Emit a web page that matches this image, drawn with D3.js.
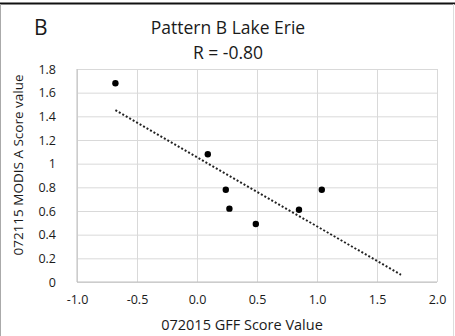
<!DOCTYPE html>
<html lang="en">
<head>
	<meta charset="utf-8">
	<title>Pattern B Lake Erie</title>
	<script src="https://d3js.org/d3.v7.min.js"></script>
	<style>
		body {margin:0; background:#fff;}
		svg text {font-family:"Open Sans", "Liberation Sans", sans-serif; fill:#1a1a1a;}
	</style>
</head>
<body>
	<div id="chart"></div>
	<script>
		// scatter values
		const gffScore = [-0.68, 0.09, 0.24, 0.27, 0.49, 0.85, 1.04];
		const modisScore = [1.68, 1.08, 0.78, 0.62, 0.49, 0.61, 0.78];
		const xTicks = [-1.0, -0.5, 0.0, 0.5, 1.0, 1.5, 2.0];
		const yTicks = [0, 0.2, 0.4, 0.6, 0.8, 1, 1.2, 1.4, 1.6, 1.8];
		const trendEnd = 1.7; // excel trendline forecast forward

		const width = 455, height = 336;
		const plotLeft = 77, plotRight = 437, plotTop = 69, plotBottom = 282;

		var svg = d3.select("#chart")
			.append("svg")
			.attr("width", width)
			.attr("height", height);

		var x = d3.scaleLinear().domain([-1, 2]).range([plotLeft, plotRight]);
		var y = d3.scaleLinear().domain([0, 1.8]).range([plotBottom, plotTop]);

		// frame
		svg.append("line").attr("x1", 0).attr("x2", width).attr("y1", 3.5).attr("y2", 3.5)
			.attr("stroke", "#111").attr("stroke-width", 2);
		svg.append("line").attr("x1", 0.5).attr("x2", 0.5).attr("y1", 4).attr("y2", height)
			.attr("stroke", "#aaa");
		svg.append("line").attr("x1", 453.5).attr("x2", 453.5).attr("y1", 4).attr("y2", height)
			.attr("stroke", "#ddd");

		// gridlines
		svg.append("g")
			.attr("transform", "translate(0," + plotBottom + ")")
			.call(d3.axisBottom(x).tickValues(xTicks).tickSize(-(plotBottom - plotTop)).tickFormat(""))
			.call(g => g.select(".domain").remove())
			.selectAll("line").attr("stroke", "#d9d9d9");
		svg.append("g")
			.attr("transform", "translate(" + plotLeft + ",0)")
			.call(d3.axisLeft(y).tickValues(yTicks).tickSize(-(plotRight - plotLeft)).tickFormat(""))
			.call(g => g.select(".domain").remove())
			.selectAll("line").attr("stroke", "#d9d9d9");
		svg.append("line").attr("x1", plotLeft).attr("x2", plotLeft).attr("y1", plotTop).attr("y2", plotBottom)
			.attr("stroke", "#bfbfbf");
		svg.append("line").attr("x1", plotLeft).attr("x2", plotRight).attr("y1", plotBottom).attr("y2", plotBottom)
			.attr("stroke", "#bfbfbf");

		// tick labels (plain hyphen minus like excel)
		var xAxis = svg.append("g")
			.attr("transform", "translate(0," + plotBottom + ")")
			.call(d3.axisBottom(x).tickValues(xTicks).tickSize(0).tickPadding(13).tickFormat(d => d.toFixed(1)));
		xAxis.select(".domain").remove();
		xAxis.selectAll("text").style("font-size", "12.5px");
		var yAxis = svg.append("g")
			.attr("transform", "translate(" + plotLeft + ",0)")
			.call(d3.axisLeft(y).tickValues(yTicks).tickSize(0).tickPadding(21).tickFormat(d => String(+d.toFixed(1))));
		yAxis.select(".domain").remove();
		yAxis.selectAll("text").style("font-size", "12.5px");

		// trendline (least squares)
		var mx = d3.mean(gffScore), my = d3.mean(modisScore);
		var sxy = d3.sum(gffScore, (d, i) => (d - mx) * (modisScore[i] - my));
		var sxx = d3.sum(gffScore, d => (d - mx) * (d - mx));
		var slope = sxy / sxx, icpt = my - slope * mx;
		var trend = [d3.min(gffScore), trendEnd];
		svg.append("path")
			.datum(trend)
			.attr("d", d3.line().x(d => x(d)).y(d => y(icpt + slope * d)))
			.attr("stroke", "#222")
			.attr("stroke-width", 2)
			.attr("stroke-dasharray", "2,2")
			.attr("fill", "none");

		// points
		svg.selectAll("circle.pt")
			.data(gffScore)
			.enter()
			.append("circle")
			.attr("class", "pt")
			.attr("cx", d => x(d))
			.attr("cy", (d, i) => y(modisScore[i]))
			.attr("r", 3.2)
			.attr("fill", "#000");

		// titles
		svg.append("text").attr("x", 34).attr("y", 35).style("font-size", "21px").text("B");
		svg.append("text").attr("x", 228).attr("y", 34).attr("text-anchor", "middle")
			.style("font-size", "17.5px").text("Pattern B Lake Erie");
		svg.append("text").attr("x", 228).attr("y", 59).attr("text-anchor", "middle")
			.style("font-size", "17.5px").text("R = -0.80");
		svg.append("text").attr("x", 242).attr("y", 330).attr("text-anchor", "middle")
			.style("font-size", "14.5px").text("072015 GFF Score Value");
		svg.append("text")
			.attr("transform", "translate(23,165) rotate(-90)")
			.attr("text-anchor", "middle")
			.style("font-size", "13.5px").text("072115 MODIS A Score value");
	</script>
</body>
</html>
